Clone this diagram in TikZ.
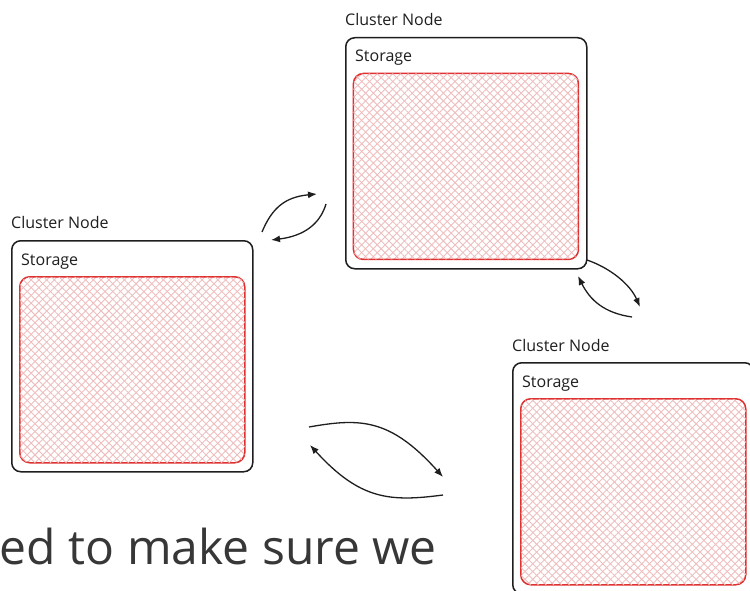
\documentclass[tikz,border=0pt]{standalone}
\usepackage{fontspec}
\setmainfont{Open Sans}
\usepackage{tikz}
\usetikzlibrary{positioning,arrows.meta,patterns.meta}
\definecolor{inkblack}{RGB}{30,30,30}
\definecolor{storered}{RGB}{224,49,49}
\definecolor{hatchpink}{RGB}{238,190,190}
\definecolor{textgray}{RGB}{55,55,55}

\begin{document}
\begin{tikzpicture}[
  x=1pt, y=-1pt,
  box/.style={draw=inkblack, line width=1.5pt, rounded corners=9pt, minimum width=241pt, minimum height=231pt, inner sep=0pt, anchor=north west},
  store/.style={draw=storered, line width=1.5pt, rounded corners=10pt, minimum width=225pt, minimum height=186pt, inner sep=0pt,
    pattern={Lines[angle=45,distance=5.5pt,line width=0.9pt]}, pattern color=hatchpink,
    postaction={pattern={Lines[angle=-45,distance=5.5pt,line width=0.9pt]}, pattern color=hatchpink}},
  lbl/.style={inner sep=0pt, text=inkblack, font=\fontsize{16}{19}\selectfont},
  arrow/.style={-{Latex[length=9pt,width=7pt]}, line width=1.3pt, draw=inkblack}
]
\useasboundingbox (0,0) rectangle (750,591);
\clip (0,0) rectangle (750,591);

% cluster nodes
\node[box] (nodeA) at (345,37) {};
\node[box] (nodeB) at (11,240) {};
\node[box] (nodeC) at (512,362) {};

\foreach \n in {A,B,C}{
  \node[lbl, anchor=base west] (title\n) at ([yshift=11pt]node\n.north west) {Cluster Node};
  \node[lbl, anchor=base west] (label\n) at ([xshift=10pt,yshift=-25pt]node\n.north west) {Storage};
  \node[store, anchor=north west] (store\n) at ([xshift=8pt,yshift=-36pt]node\n.north west) {};
}

% arrow ends
\coordinate (ab1) at (262,232);
\coordinate (ab2) at (317,194);
\coordinate (ba1) at (326,204);
\coordinate (ba2) at (271,240);
\coordinate (ac1) at (587,260);
\coordinate (ac2) at (640,307);
\coordinate (ca1) at (632,317);
\coordinate (ca2) at (578,276);
\coordinate (bc1) at (309,427);
\coordinate (bc2) at (443,477);
\coordinate (cb1) at (443,495);
\coordinate (cb2) at (310,445);

\draw[arrow] (ab1) .. controls (272,208) and (285,197) .. (ab2);
\draw[arrow] (ba1) .. controls (320,224) and (304,236) .. (ba2);
\draw[arrow] (ac1) .. controls (610,268) and (630,284) .. (ac2);
\draw[arrow] (ca1) .. controls (604,313) and (590,300) .. (ca2);
\draw[arrow] (bc1) .. controls (360,418) and (390,418) .. (bc2);
\draw[arrow] (cb1) .. controls (390,502) and (360,500) .. (cb2);

% page text under the sketch
\node[anchor=base east, inner sep=0pt, text=textgray, font=\fontsize{48}{57}\selectfont] (caption) at (437,564) {ed to make sure we};
\end{tikzpicture}
\end{document}
